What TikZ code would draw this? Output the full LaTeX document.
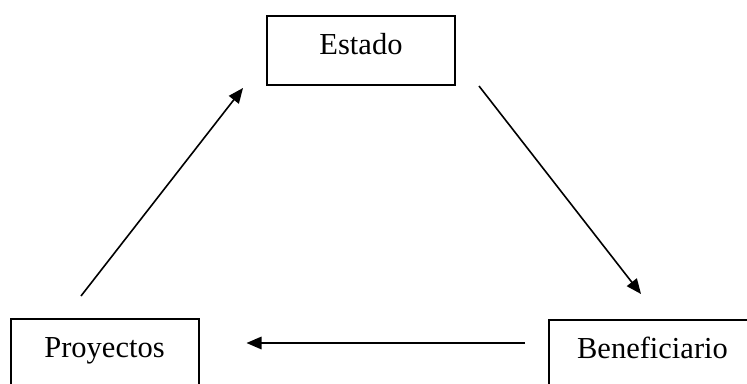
\documentclass[tikz,border=0pt]{standalone}
\usepackage{fontspec}
\setmainfont{Liberation Serif}
\usetikzlibrary{arrows.meta}
\tikzset{caja/.style={draw,line width=2pt,inner sep=0pt,minimum width=188pt,minimum height=69pt,text height=21pt,text depth=14pt}}
\begin{document}
\begin{tikzpicture}[x=1pt,y=-1pt,font=\fontsize{30.5}{36}\selectfont, line join=miter, >={Triangle[length=15pt,width=12.5pt]}]
			\useasboundingbox (0,0) rectangle (747,383);
			%Cajas
			\node[caja] (estado) at (361,50.5) {Estado};
			\node[caja] (proy) at (104.5,353.5) {Proyectos};
			\node[caja,minimum width=207pt] (benef) at (652.5,354.5) {Beneficiario};
			
			%Flechas
			\begin{scope}[line width=1.6pt]
				\draw[->] ([xshift=-23.5pt,yshift=22pt]proy.north)--([xshift=-23pt,yshift=-2pt]estado.south west);
				\draw[->] ([xshift=23pt]estado.south east)--([xshift=-11.5pt,yshift=25pt]benef.north);
				\draw[->] ([xshift=-23pt,yshift=11.5pt]benef.west)--([xshift=47pt,yshift=10.5pt]proy.east);
			\end{scope}
		\end{tikzpicture}
\end{document}
